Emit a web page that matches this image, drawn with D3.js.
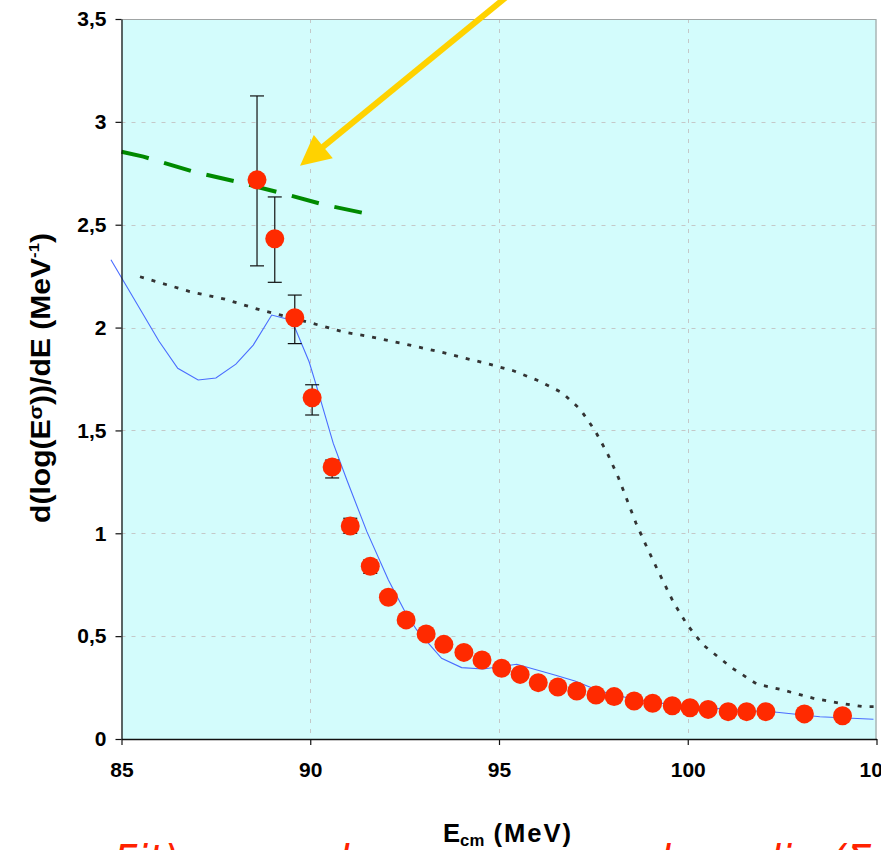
<!DOCTYPE html>
<html><head><meta charset="utf-8">
<script src="https://cdn.jsdelivr.net/npm/d3@7"></script>
<style>
body{margin:0;background:#fff;}
svg{display:block;font-family:"Liberation Sans",Arial,Helvetica,sans-serif;}
</style>
</head><body>
<svg id="chart" width="881" height="850"></svg>
<script>
// ---------------- data ----------------
const xTicks = [85, 90, 95, 100, 105];
const yTicks = [0, 0.5, 1, 1.5, 2, 2.5, 3, 3.5];

// experimental points: energy (MeV) and d(log(E sigma))/dE
const energy = [88.59, 89.06, 89.59, 90.05, 90.58, 91.06, 91.59, 92.07, 92.54, 93.07,
                93.54, 94.07, 94.55, 95.07, 95.56, 96.04, 96.56, 97.06, 97.57, 98.05,
                98.58, 99.07, 99.59, 100.06, 100.54, 101.07, 101.56, 102.07, 103.09, 104.10];
const deriv  = [2.718, 2.432, 2.048, 1.659, 1.322, 1.035, 0.840, 0.689, 0.579, 0.510,
                0.460, 0.421, 0.384, 0.344, 0.314, 0.274, 0.253, 0.233, 0.214, 0.206,
                0.185, 0.174, 0.162, 0.152, 0.144, 0.133, 0.133, 0.133, 0.122, 0.113];
const errLow  = [2.300, 2.220, 1.922, 1.575, 1.269, 1.000, 0.805, 0.670];
const errHigh = [3.126, 2.635, 2.158, 1.722, 1.356, 1.073, 0.870, 0.705];

// thin blue curve
const blueE = [84.72, 85.99, 86.49, 87.03, 87.50, 88.03, 88.49, 88.98, 89.38, 89.60, 89.97,
               90.17, 90.61, 90.97, 91.50, 92.07, 92.51, 92.82, 93.48, 94.01, 94.58, 95.47,
               96.50, 97.01, 97.50, 98.00, 99.00, 100.00, 101.00, 102.36, 103.50, 104.92];
const blueV = [2.330, 1.935, 1.802, 1.745, 1.755, 1.822, 1.915, 2.061, 2.042, 1.997, 1.834,
               1.713, 1.437, 1.259, 1.008, 0.773, 0.619, 0.530, 0.392, 0.347, 0.340, 0.363,
               0.310, 0.282, 0.246, 0.215, 0.180, 0.160, 0.145, 0.130, 0.108, 0.096];

// green dashed curve
const greenE = [85.00, 85.58, 86.90, 88.05, 89.20, 90.39, 91.60];
const greenV = [2.855, 2.831, 2.758, 2.709, 2.656, 2.596, 2.550];

// black dotted curve
const dotE = [85.49, 86.81, 87.74, 88.67, 89.38, 89.99, 90.92, 91.58, 92.51, 93.48, 94.74,
              95.38, 96.00, 96.67, 97.15, 97.54, 97.87, 98.16, 98.63, 98.91, 99.18, 99.62,
              99.99, 100.41, 101.16, 101.83, 102.44, 103.33, 104.03, 104.65, 105.09];
const dotV = [2.247, 2.175, 2.138, 2.086, 2.053, 2.024, 1.977, 1.956, 1.920, 1.880, 1.822,
              1.790, 1.745, 1.684, 1.603, 1.500, 1.389, 1.272, 1.049, 0.935, 0.830, 0.665,
              0.554, 0.457, 0.347, 0.267, 0.242, 0.198, 0.174, 0.157, 0.157];

// yellow annotation arrow (tail -> tip, data units)
const arrowE = [95.10, 89.73];
const arrowV = [3.593, 2.787];

// ---------------- chart ----------------
const svg = d3.select("#chart");
const x = d3.scaleLinear().domain([85, 105]).range([121.5, 876.5]);
const y = d3.scaleLinear().domain([0, 3.5]).range([739, 19]);
const [x0, x1] = x.range();
const [yb, yt] = y.range();

// plot background
svg.append("rect").attr("x", x0).attr("y", yt).attr("width", x1 - x0).attr("height", yb - yt)
  .attr("fill", "#d3fcfc");

// grid
const grid = svg.append("g").attr("stroke", "#c4c8c8").attr("stroke-width", 1).attr("stroke-dasharray", "4,6");
grid.selectAll("line.h").data(yTicks.filter(d => d > 0 && d < 3.5)).join("line")
  .attr("x1", x0).attr("x2", x1).attr("y1", d => Math.round(y(d)) + 0.5).attr("y2", d => Math.round(y(d)) + 0.5);
grid.selectAll("line.v").data(xTicks.filter(d => d > 85 && d < 105)).join("line")
  .attr("y1", yt).attr("y2", yb).attr("x1", d => Math.round(x(d)) + 0.5).attr("x2", d => Math.round(x(d)) + 0.5);

// top and right border
svg.append("path").attr("d", `M${x0},${yt + 0.5}H${x1 - 0.5}V${yb}`)
  .attr("fill", "none").attr("stroke", "#a0a4a4").attr("stroke-width", 1.2);

// curves
const line = d3.line().x(d => x(d[0])).y(d => y(d[1]));
svg.append("path").datum(dotE.map((e, i) => [e, dotV[i]])).attr("d", line)
  .attr("fill", "none").attr("stroke", "#333").attr("stroke-width", 2.8).attr("stroke-dasharray", "4,8");
svg.append("path").datum(greenE.map((e, i) => [e, greenV[i]])).attr("d", line)
  .attr("fill", "none").attr("stroke", "#008a00").attr("stroke-width", 4).attr("stroke-dasharray", "28,16");
svg.append("path").datum(blueE.map((e, i) => [e, blueV[i]])).attr("d", line)
  .attr("fill", "none").attr("stroke", "#4a6cff").attr("stroke-width", 1.1);

// error bars
const eb = svg.append("g").attr("stroke", "#111").attr("stroke-width", 1.2);
errLow.forEach((lo, i) => {
  const cx = x(energy[i]);
  eb.append("line").attr("x1", cx).attr("x2", cx).attr("y1", y(lo)).attr("y2", y(errHigh[i]));
  [lo, errHigh[i]].forEach(v => eb.append("line").attr("x1", cx - 7).attr("x2", cx + 7).attr("y1", y(v)).attr("y2", y(v)));
});

// points
svg.append("g").selectAll("circle").data(energy.map((e, i) => [e, deriv[i]])).join("circle")
  .attr("cx", d => x(d[0])).attr("cy", d => y(d[1])).attr("r", 9.5).attr("fill", "#ff2a00");

// axes
const ax = svg.append("g").attr("transform", `translate(${x0},0)`)
  .call(d3.axisLeft(y).tickValues(yTicks).tickSize(6).tickSizeOuter(0).tickPadding(9)
    .tickFormat(d => String(d).replace(".", ",")));
const bx = svg.append("g").attr("transform", `translate(0,${yb})`)
  .call(d3.axisBottom(x).tickValues(xTicks).tickSize(6).tickSizeOuter(0).tickPadding(17)
    .tickFormat(d => String(d)));
[ax, bx].forEach(g => {
  g.select(".domain").attr("stroke", "#111").attr("stroke-width", 1.3);
  g.selectAll(".tick line").attr("stroke", "#111").attr("stroke-width", 1.2);
  g.selectAll("text").attr("font-size", 21).attr("font-weight", "bold").attr("fill", "#000")
    .attr("font-family", "'Liberation Sans', Arial, sans-serif");
});

// yellow arrow
{
  const tx = x(arrowE[1]), ty = y(arrowV[1]);
  const sx = x(arrowE[0]), sy = y(arrowV[0]);
  const len = Math.hypot(sx - tx, sy - ty), ux = (sx - tx) / len, uy = (sy - ty) / len;
  const hl = 30, hw = 15;
  const bx0 = tx + ux * hl, by0 = ty + uy * hl;
  svg.append("line").attr("x1", sx + ux * 10).attr("y1", sy + uy * 10).attr("x2", bx0 - ux * 2).attr("y2", by0 - uy * 2)
    .attr("stroke", "#ffd200").attr("stroke-width", 6);
  svg.append("path").attr("d", `M${tx},${ty}L${bx0 - uy * hw},${by0 + ux * hw}L${bx0 + uy * hw},${by0 - ux * hw}Z`)
    .attr("fill", "#ffd200");
}

// axis titles
const yTitle = svg.append("text").attr("text-anchor", "middle").attr("font-size", 27).attr("font-weight", "bold");
yTitle.append("tspan").text("d(log(E");
yTitle.append("tspan").attr("font-size", 19).attr("dy", -8).text("σ");
yTitle.append("tspan").attr("dy", 8).text("))/dE (MeV");
yTitle.append("tspan").attr("font-size", 15).attr("dy", -11).text("-1");
yTitle.append("tspan").attr("dy", 11).text(")");
{
  const w = yTitle.node().getBBox().width;
  yTitle.attr("transform", `translate(50,378) rotate(-90) scale(${290 / w},1)`);
}

const xTitle = svg.append("text").attr("text-anchor", "middle").attr("font-size", 26).attr("font-weight", "bold");
xTitle.append("tspan").text("E");
xTitle.append("tspan").attr("font-size", 17).attr("dy", 4).text("cm");
xTitle.append("tspan").attr("dy", -4).attr("letter-spacing", 2).text(" (MeV)");
{
  const w = xTitle.node().getBBox().width;
  xTitle.attr("transform", `translate(508,842) scale(${130 / w},1)`);
}

// red slide caption, cut off by the bottom edge (only tops of tall letters show)
const cap = svg.append("text").attr("y", 874).attr("font-size", 40).attr("fill", "#ff2200")
  .attr("font-style", "italic").attr("font-family", "'DejaVu Sans', sans-serif");
cap.append("tspan").attr("x", 114).text("Fit)");
cap.append("tspan").attr("x", 324).text("d");
cap.append("tspan").attr("x", 660).text("k");
cap.append("tspan").attr("x", 770).text("li σ(Σ");
</script>
</body></html>
